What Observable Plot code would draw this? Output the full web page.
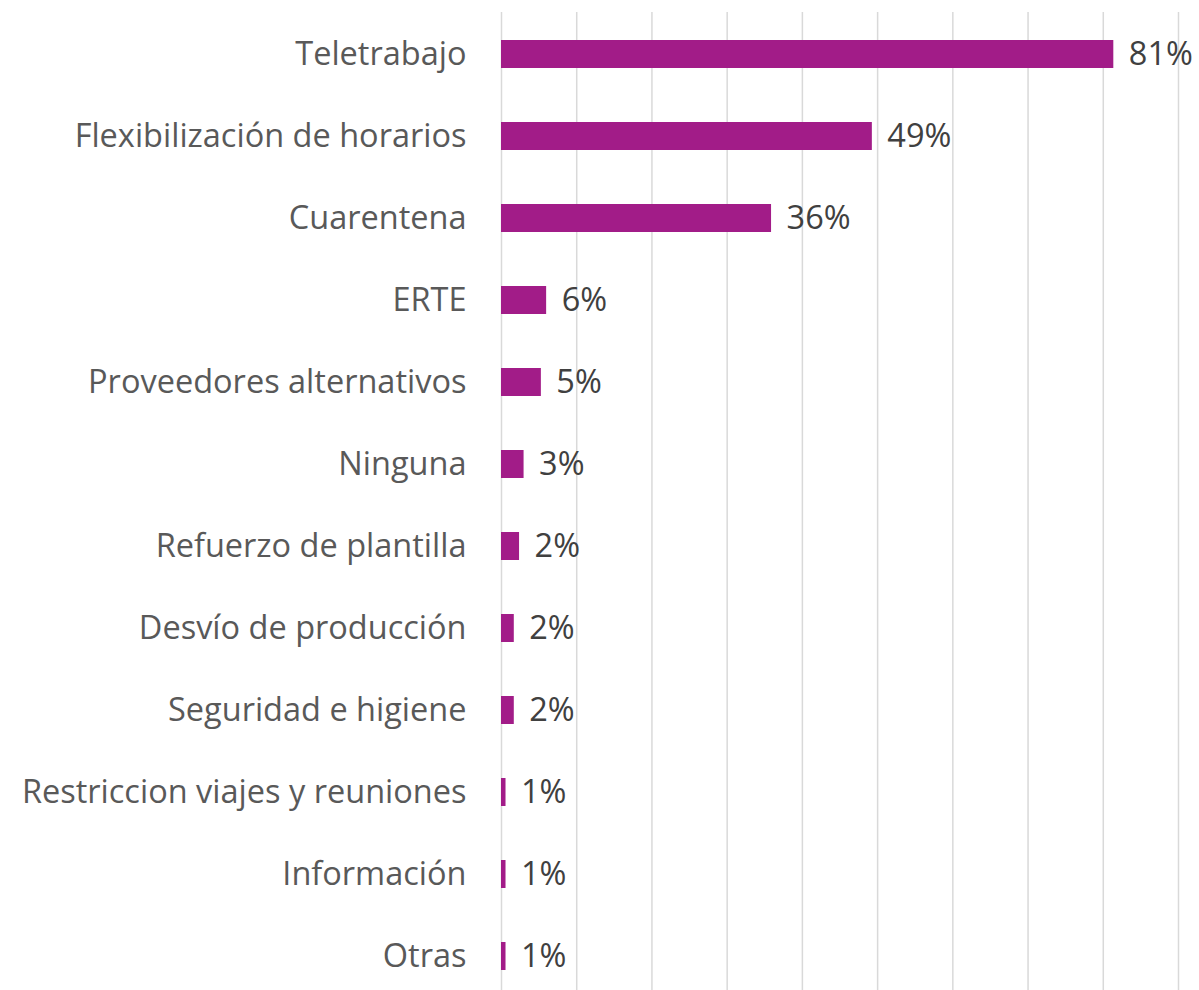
<!DOCTYPE html>
<html><head><meta charset="utf-8">
<script src="https://cdn.jsdelivr.net/npm/d3@7"></script>
<script src="https://cdn.jsdelivr.net/npm/@observablehq/plot@0.6"></script>
<style>body{margin:0;background:#fff;} svg{display:block;}</style>
</head><body><div id="chart"></div>
<script>
const categories = ["Teletrabajo","Flexibilización de horarios","Cuarentena","ERTE","Proveedores alternativos","Ninguna","Refuerzo de plantilla","Desvío de producción","Seguridad e higiene","Restriccion viajes y reuniones","Información","Otras"];
const values = [81.4, 49.3, 35.9, 6.0, 5.3, 3.0, 2.4, 1.7, 1.7, 0.6, 0.6, 0.6];
const valueLabels = ["81%","49%","36%","6%","5%","3%","2%","2%","2%","1%","1%","1%"];
const gridTicks = [0,10,20,30,40,50,60,70,80,90];

const data = categories.map((c,i)=>({cat:c, v:values[i], label:valueLabels[i]}));

const chart = Plot.plot({
  width: 1199,
  height: 998,
  marginLeft: 501,
  marginRight: 21,
  marginTop: 12,
  marginBottom: 0,
  style: {fontFamily: "'Open Sans', sans-serif", background: "#fff", overflow: "visible"},
  x: {domain: [0, 90], axis: null},
  y: {domain: categories, paddingInner: 0.66, paddingOuter: 0.33, axis: null},
  marks: [
    Plot.gridX(gridTicks, {stroke: "#d9d9d9", strokeOpacity: 1, strokeWidth: 1.5}),
    Plot.barX(data, {x: "v", y: "cat", fill: "#A21C88"}),
    Plot.text(data, {x: "v", y: "cat", text: "label", textAnchor: "start", dx: 15, fontSize: 32.5, fill: "#404040"}),
    Plot.axisY({tickSize: 0, tickPadding: 35, fontSize: 32.5, fill: "#595959", label: null})
  ]
});
document.getElementById("chart").append(chart);
</script>
</body></html>
